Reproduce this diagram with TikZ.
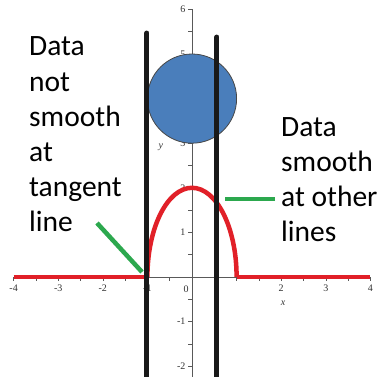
\documentclass[tikz,border=0pt]{standalone}
\usepackage{fontspec}
\newfontfamily\txtfont{Carlito}
\newfontfamily\axfont{Liberation Serif}
\definecolor{redc}{RGB}{225,32,40}
\definecolor{bluec}{RGB}{74,126,187}
\definecolor{greenc}{RGB}{44,168,78}
\definecolor{blackc}{RGB}{25,25,25}
\tikzset{
  axisline/.style={draw=gray!70!black, line width=0.6pt},
  ticklab/.style={font=\axfont\fontsize{10}{10}\selectfont, text=black!80, inner sep=1pt},
  redcurve/.style={draw=redc, line width=4.5pt},
  blackbar/.style={draw=blackc, line width=5pt, line cap=round},
  greenline/.style={draw=greenc, line width=4.5pt},
  bigtext/.style={font=\txtfont\fontsize{29.5}{29.5}\selectfont, anchor=base west, inner sep=0pt}
}
\begin{document}
\begin{tikzpicture}[x=1pt,y=1pt]
\useasboundingbox (0,0) rectangle (381,376);
\fill[white] (0,0) rectangle (381,376);
\begin{scope}[shift={(192pt,99pt)},x=44.6pt,y=44.6pt]
  % axes
  \draw[axisline] (-4,0) -- (4,0);
  \draw[axisline] (0,-2.25) -- (0,6);
  \foreach \k in {-2,-1.5,...,6} \draw[axisline] (0,\k) -- (-0.08,\k);
  \foreach \k in {-4,-3.5,...,4} \draw[axisline] (\k,0) -- (\k,-0.08);
  \foreach \k in {-2,-1,1,2,3,4,5,6} \node[ticklab, left] (yl\k) at (-0.12,\k) {\k};
  \node[ticklab] (yl0) at (-0.13,-0.27) {0};
  \foreach \k in {-4,-3,-2,-1,2,3,4} \node[ticklab, below] (xl\k) at (\k,-0.15) {\k};
  \node[ticklab, font=\axfont\itshape\fontsize{10}{10}\selectfont] (xlab) at (2.04,-0.58) {x};
  \node[ticklab, font=\axfont\itshape\fontsize{10}{10}\selectfont] (ylab) at (-0.7,2.91) {y};
  % blue circle
  \node[circle, fill=bluec, draw=blackc!80, line width=0.8pt, minimum size=89.2pt, inner sep=0pt] (ball) at (0,4) {};
  % red curve
  \draw[redcurve] (-4,0) -- (-1,0);
  \draw[redcurve] (1,0) -- (4,0);
  \draw[redcurve] (-1,0) arc[start angle=180, end angle=0, x radius=1, y radius=2];
  % black lines
  \coordinate (b1top) at (-1.01,5.47);
  \coordinate (b1bot) at (-1.01,-2.3);
  \coordinate (b2top) at (0.56,5.38);
  \coordinate (b2bot) at (0.56,-2.3);
  \draw[blackbar] (b1top) -- (b1bot);
  \draw[blackbar] (b2top) -- (b2bot);
\end{scope}
% texts
\node[bigtext] (l1) at (29,320) {Data};
\node[bigtext] (l2) at (29,285) {not};
\node[bigtext] (l3) at (29,250) {smooth};
\node[bigtext] (l4) at (29,215) {at};
\node[bigtext] (l5) at (29,180) {tangent};
\node[bigtext] (l6) at (29,145) {line};
\node[bigtext] (r1) at (281,240) {Data};
\node[bigtext] (r2) at (281,205) {smooth};
\node[bigtext] (r3) at (281,170) {at other};
\node[bigtext] (r4) at (281,135) {lines};
% green pointers
\coordinate (g1a) at (97,153);
\coordinate (g1b) at (142,104);
\coordinate (g2a) at (275,177);
\coordinate (g2b) at (225,177);
\draw[greenline] (g1a) -- (g1b);
\draw[greenline] (g2a) -- (g2b);
\end{tikzpicture}
\end{document}
